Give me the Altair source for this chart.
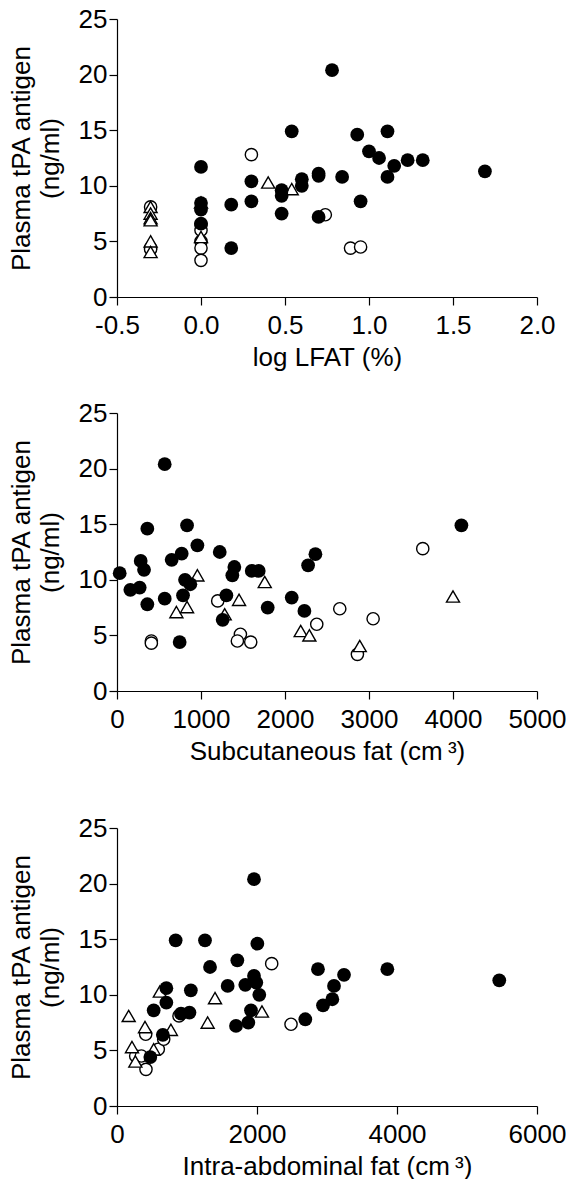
import altair as alt
import pandas as pd

# ---------------- Panel 1: log LFAT (%) ----------------
p1_filled_x = [0.0, 0.0, 0.0, 0.0, 0.18, 0.18, 0.30, 0.30, 0.48, 0.48, 0.48, 0.54, 0.60, 0.60,
               0.70, 0.70, 0.70, 0.78, 0.84, 0.93, 0.95, 1.00, 1.06, 1.11, 1.11, 1.15, 1.23, 1.32, 1.69]
p1_filled_y = [11.7, 8.45, 7.85, 6.6, 8.3, 4.4, 10.4, 8.6, 9.6, 9.1, 7.5, 14.9, 10.6, 10.0,
               11.1, 10.9, 7.2, 20.4, 10.8, 14.6, 8.6, 13.1, 12.5, 14.9, 10.8, 11.8, 12.3, 12.3, 11.3]
p1_open_x = [-0.3, -0.3, -0.3, 0.0, 0.0, 0.0, 0.0, 0.0, 0.30, 0.74, 0.89, 0.95]
p1_open_y = [8.1, 4.4, 4.3, 6.5, 6.0, 5.0, 4.4, 3.3, 12.8, 7.4, 4.4, 4.5]
p1_tri_x = [-0.3, -0.3, -0.3, -0.3, -0.3, -0.3, 0.0, 0.0, 0.40, 0.54]
p1_tri_y = [8.1, 7.5, 7.1, 6.9, 5.0, 4.05, 8.5, 5.4, 10.3, 9.7]

# ---------------- Panel 2: Subcutaneous fat ----------------
p2_filled_x = [32, 159, 270, 282, 322, 361, 361, 568, 568, 651, 746, 770, 786, 810, 873,
               834, 957, 1223, 1302, 1258, 1397, 1373, 1604, 1687, 1794, 2080, 2231, 2275, 2362, 4100]
p2_filled_y = [10.6, 9.1, 9.3, 11.7, 10.9, 14.6, 7.8, 20.4, 8.3, 11.8, 4.4, 12.35, 8.6, 10.0, 9.6,
               14.9, 13.1, 12.5, 8.6, 6.4, 11.15, 10.4, 10.8, 10.8, 7.5, 8.4, 7.2, 11.3, 12.3, 14.9]
p2_open_x = [409, 409, 1199, 1469, 1433, 1592, 2378, 2652, 2862, 3049, 3640]
p2_open_y = [4.5, 4.3, 8.1, 5.1, 4.5, 4.4, 6.0, 7.4, 3.3, 6.5, 12.8]
p2_tri_x = [707, 834, 957, 1282, 1453, 1759, 2187, 2290, 2890, 4000]
p2_tri_y = [7.1, 7.55, 10.4, 6.9, 8.2, 9.8, 5.4, 5.0, 4.05, 8.5]

# ---------------- Panel 3: Intra-abdominal fat ----------------
p3_filled_x = [476, 524, 705, 705, 655, 838, 914, 1035, 1055, 1257, 1329, 1581, 1700, 1719, 1833,
               1876, 1914, 1957, 1957, 1990, 2005, 2033, 2690, 2871, 2943, 3076, 3100, 3243, 3862, 5461]
p3_filled_y = [4.4, 8.6, 10.6, 9.3, 6.4, 14.9, 8.3, 8.4, 10.4, 14.9, 12.5, 10.8, 7.2, 13.1, 10.9,
               7.5, 8.6, 20.4, 11.7, 11.1, 14.6, 10.0, 7.8, 12.3, 9.05, 9.6, 10.8, 11.8, 12.3, 11.3]
p3_open_x = [267, 348, 414, 410, 590, 667, 886, 2210, 2486]
p3_open_y = [4.5, 4.5, 3.3, 6.45, 5.1, 6.0, 8.1, 12.8, 7.35]
p3_tri_x = [167, 214, 262, 400, 524, 612, 770, 1295, 1400, 2071]
p3_tri_y = [8.1, 5.3, 4.0, 7.1, 5.1, 10.3, 6.85, 7.5, 9.7, 8.5]

Y_TITLE = ["Plasma tPA antigen", "(ng/ml)"]
Y_TICKS = [0, 5, 10, 15, 20, 25]

FONT = "Liberation Sans"


def frame(xs, ys, group):
    return pd.DataFrame({"x": xs, "y": ys, "g": group})


def panel(fx, fy, ox, oy, tx, ty, x_title, x_domain, x_ticks, x_label_expr):
    df = pd.concat([frame(ox, oy, "open"), frame(tx, ty, "tri"), frame(fx, fy, "filled")],
                   ignore_index=True)
    base = alt.Chart(df).encode(
        x=alt.X("x:Q",
                scale=alt.Scale(domain=x_domain, nice=False, zero=False),
                axis=alt.Axis(values=x_ticks, labelExpr=x_label_expr, title=x_title)),
        y=alt.Y("y:Q",
                scale=alt.Scale(domain=[0, 25], nice=False),
                axis=alt.Axis(values=Y_TICKS, format="d", title=Y_TITLE)),
    )
    opn = base.transform_filter(alt.datum.g == "open").mark_point(
        shape="circle", fill="white", stroke="black", strokeWidth=1.4,
        size=150, opacity=1, fillOpacity=1)
    tri = base.transform_filter(alt.datum.g == "tri").mark_point(
        shape="triangle-up", fill="white", stroke="black", strokeWidth=1.4,
        size=170, opacity=1, fillOpacity=1)
    fil = base.transform_filter(alt.datum.g == "filled").mark_circle(
        color="black", size=190, opacity=1)
    return alt.layer(opn, tri, fil).properties(width=420, height=278)


LOG_EXPR = "datum.value < 0 ? '-' + format(-datum.value, '.1f') : format(datum.value, '.1f')"
INT_EXPR = "format(datum.value, 'd')"

c1 = panel(p1_filled_x, p1_filled_y, p1_open_x, p1_open_y, p1_tri_x, p1_tri_y,
           "log LFAT (%)", [-0.5, 2.0], [-0.5, 0.0, 0.5, 1.0, 1.5, 2.0], LOG_EXPR)
c2 = panel(p2_filled_x, p2_filled_y, p2_open_x, p2_open_y, p2_tri_x, p2_tri_y,
           "Subcutaneous fat (cm\u2009\u00b3)", [0, 5000], [0, 1000, 2000, 3000, 4000, 5000], INT_EXPR)
c3 = panel(p3_filled_x, p3_filled_y, p3_open_x, p3_open_y, p3_tri_x, p3_tri_y,
           "Intra-abdominal fat (cm\u2009\u00b3)", [0, 6000], [0, 2000, 4000, 6000], INT_EXPR)

chart = alt.vconcat(alt.vconcat(c1, c2, spacing=30), c3, spacing=51).properties(
    padding={"left": 8, "top": 6, "right": 0, "bottom": 0},
    background="white",
).configure_view(stroke=None).configure_axis(
    grid=False,
    domainColor="black",
    domainWidth=1.2,
    tickColor="black",
    tickWidth=1.2,
    tickSize=8,
    labelFont=FONT,
    labelFontSize=26,
    labelColor="black",
    titleFont=FONT,
    titleFontSize=26,
    titleFontWeight="normal",
    titleColor="black",
    titleLineHeight=29,
    labelFlush=False,
    labelOverlap=False,
).configure_axisY(titlePadding=15, labelPadding=2).configure_axisX(titlePadding=6, labelPadding=7)

chart.save("out.html", embed_options={"renderer": "svg", "actions": False})
